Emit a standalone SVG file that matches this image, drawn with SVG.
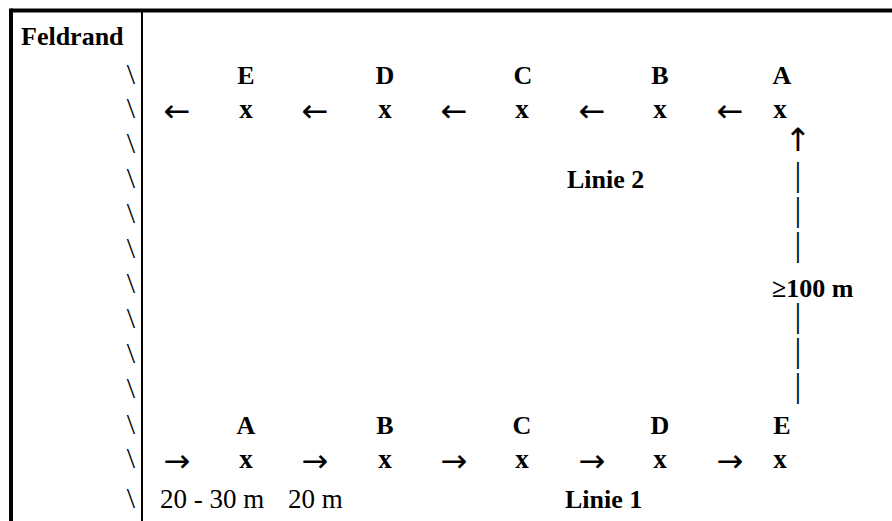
<svg xmlns="http://www.w3.org/2000/svg" width="892" height="521" viewBox="0 0 892 521">
<rect width="892" height="521" fill="#fff"/>
<g id="frame" stroke="#000" fill="none">
<line x1="11" y1="10.5" x2="892" y2="10.5" stroke-width="4"/>
<line x1="11" y1="8.5" x2="11" y2="521" stroke-width="4"/>
<line x1="142" y1="10" x2="142" y2="521" stroke-width="2"/>
</g>
<g id="feldrand">
<text font-family="Liberation Serif" font-size="26" font-weight="bold" x="21" y="45">Feldrand</text>
<text font-family="Liberation Serif" font-size="30" text-anchor="end" x="135" y="84">\</text>
<text font-family="Liberation Serif" font-size="30" text-anchor="end" x="135" y="118">\</text>
<text font-family="Liberation Serif" font-size="30" text-anchor="end" x="135" y="153">\</text>
<text font-family="Liberation Serif" font-size="30" text-anchor="end" x="135" y="188">\</text>
<text font-family="Liberation Serif" font-size="30" text-anchor="end" x="135" y="223">\</text>
<text font-family="Liberation Serif" font-size="30" text-anchor="end" x="135" y="258">\</text>
<text font-family="Liberation Serif" font-size="30" text-anchor="end" x="135" y="293">\</text>
<text font-family="Liberation Serif" font-size="30" text-anchor="end" x="135" y="328">\</text>
<text font-family="Liberation Serif" font-size="30" text-anchor="end" x="135" y="363">\</text>
<text font-family="Liberation Serif" font-size="30" text-anchor="end" x="135" y="398">\</text>
<text font-family="Liberation Serif" font-size="30" text-anchor="end" x="135" y="434">\</text>
<text font-family="Liberation Serif" font-size="30" text-anchor="end" x="135" y="468">\</text>
<text font-family="Liberation Serif" font-size="30" text-anchor="end" x="135" y="508">\</text>
</g>
<g id="linie2">
<text font-family="Liberation Serif" font-size="26" font-weight="bold" text-anchor="middle" x="246" y="84">E</text>
<text font-family="Liberation Serif" font-size="26" font-weight="bold" text-anchor="middle" x="385" y="84">D</text>
<text font-family="Liberation Serif" font-size="26" font-weight="bold" text-anchor="middle" x="523" y="84">C</text>
<text font-family="Liberation Serif" font-size="26" font-weight="bold" text-anchor="middle" x="660" y="84">B</text>
<text font-family="Liberation Serif" font-size="26" font-weight="bold" text-anchor="middle" x="782" y="84">A</text>
<text font-family="Liberation Serif" font-size="27" font-weight="bold" text-anchor="middle" x="246" y="118">x</text>
<text font-family="Liberation Serif" font-size="27" font-weight="bold" text-anchor="middle" x="385" y="118">x</text>
<text font-family="Liberation Serif" font-size="27" font-weight="bold" text-anchor="middle" x="522" y="118">x</text>
<text font-family="Liberation Serif" font-size="27" font-weight="bold" text-anchor="middle" x="660" y="118">x</text>
<text font-family="Liberation Serif" font-size="27" font-weight="bold" text-anchor="middle" x="780" y="118">x</text>
<text font-family="Liberation Serif" font-size="26" font-weight="bold" x="567" y="188">Linie 2</text>
</g>
<g id="linie1">
<text font-family="Liberation Serif" font-size="26" font-weight="bold" text-anchor="middle" x="246" y="434">A</text>
<text font-family="Liberation Serif" font-size="26" font-weight="bold" text-anchor="middle" x="385" y="434">B</text>
<text font-family="Liberation Serif" font-size="26" font-weight="bold" text-anchor="middle" x="522" y="434">C</text>
<text font-family="Liberation Serif" font-size="26" font-weight="bold" text-anchor="middle" x="660" y="434">D</text>
<text font-family="Liberation Serif" font-size="26" font-weight="bold" text-anchor="middle" x="782" y="434">E</text>
<text font-family="Liberation Serif" font-size="27" font-weight="bold" text-anchor="middle" x="246" y="468">x</text>
<text font-family="Liberation Serif" font-size="27" font-weight="bold" text-anchor="middle" x="385" y="468">x</text>
<text font-family="Liberation Serif" font-size="27" font-weight="bold" text-anchor="middle" x="522" y="468">x</text>
<text font-family="Liberation Serif" font-size="27" font-weight="bold" text-anchor="middle" x="660" y="468">x</text>
<text font-family="Liberation Serif" font-size="27" font-weight="bold" text-anchor="middle" x="780" y="468">x</text>
<text font-family="Liberation Serif" font-size="27" x="160" y="508">20 - 30 m</text>
<text font-family="Liberation Serif" font-size="27" x="288" y="508">20 m</text>
<text font-family="Liberation Serif" font-size="26" font-weight="bold" x="565" y="508">Linie 1</text>
</g>
<g id="connectors">
<text font-family="DejaVu Sans" font-size="32" text-anchor="middle" x="177" y="122">←</text>
<text font-family="DejaVu Sans" font-size="32" text-anchor="middle" x="315" y="122">←</text>
<text font-family="DejaVu Sans" font-size="32" text-anchor="middle" x="454" y="122">←</text>
<text font-family="DejaVu Sans" font-size="32" text-anchor="middle" x="592" y="122">←</text>
<text font-family="DejaVu Sans" font-size="32" text-anchor="middle" x="730" y="122">←</text>
<text font-family="DejaVu Sans" font-size="32" text-anchor="middle" x="177" y="472">→</text>
<text font-family="DejaVu Sans" font-size="32" text-anchor="middle" x="315" y="472">→</text>
<text font-family="DejaVu Sans" font-size="32" text-anchor="middle" x="454" y="472">→</text>
<text font-family="DejaVu Sans" font-size="32" text-anchor="middle" x="592" y="472">→</text>
<text font-family="DejaVu Sans" font-size="32" text-anchor="middle" x="730" y="472">→</text>
<text font-family="DejaVu Sans" font-size="32" text-anchor="middle" x="798" y="151">↑</text>
<text font-family="Liberation Serif" font-size="34" text-anchor="middle" x="798" y="186">|</text>
<text font-family="Liberation Serif" font-size="34" text-anchor="middle" x="798" y="221">|</text>
<text font-family="Liberation Serif" font-size="34" text-anchor="middle" x="798" y="256">|</text>
<text font-family="Liberation Serif" font-size="34" text-anchor="middle" x="798" y="327">|</text>
<text font-family="Liberation Serif" font-size="34" text-anchor="middle" x="798" y="362">|</text>
<text font-family="Liberation Serif" font-size="34" text-anchor="middle" x="798" y="397">|</text>
<text font-family="Liberation Serif" font-size="26" font-weight="bold" x="772" y="297">≥100 m</text>
</g>
</svg>
